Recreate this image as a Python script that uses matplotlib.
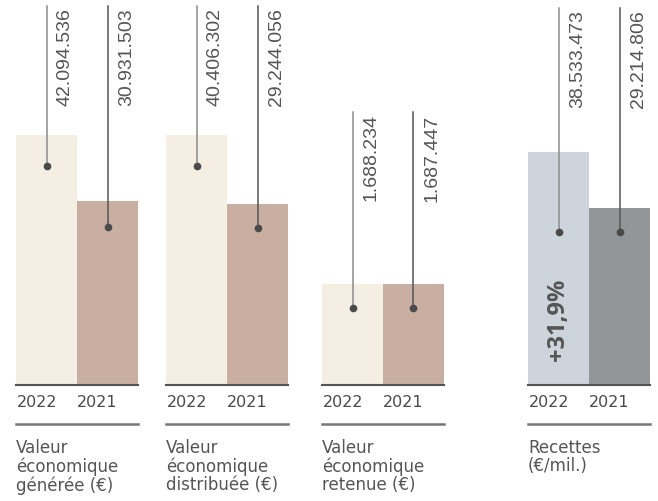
import matplotlib
matplotlib.use('Agg')
import matplotlib.pyplot as plt

# data
years = ['2022', '2021']
categories = ['Valeur\néconomique\ngénérée (€)',
              'Valeur\néconomique\ndistribuée (€)',
              'Valeur\néconomique\nretenue (€)',
              'Recettes\n(€/mil.)']
generee = [42094536, 30931503]
distribuee = [40406302, 29244056]
retenue = [1688234, 1687447]
recettes = [38533473, 29214806]
variation = '+31,9%'

W, H = 658, 502
base = 385.5  # pixel y of the baseline

def fx(x):
    return x / W

def fy(y):
    return 1 - y / H

def fmt(v):
    return f'{v:,}'.replace(',', '.')

# layout of each panel (pixels): left, right, y max, line top, dot heights
panels = [
    dict(vals=generee, left=16, right=138, ytop=42094536 * 385.5 / 250,
         line_top=0.982, dots=[0.567, 0.409], cols=['#f4eee3', '#c9aea2']),
    dict(vals=distribuee, left=166, right=288, ytop=40406302 * 385.5 / 250,
         line_top=0.982, dots=[0.567, 0.406], cols=['#f4eee3', '#c9aea2']),
    dict(vals=retenue, left=322, right=444, ytop=1688234 * 385.5 / 101,
         line_top=0.707, dots=[0.198, 0.198], cols=['#f4eee3', '#c9aea2']),
    dict(vals=recettes, left=528, right=650, ytop=38533473 * 385.5 / 233,
         line_top=0.977, dots=[0.396, 0.396], cols=['#cdd4db', '#939698']),
]
line_cols = ['#8c8c8c', '#555555']
txt_font = ['DejaVu Sans']

fig = plt.figure(figsize=(W / 100, H / 100), dpi=100)

for p, cat in zip(panels, categories):
    ax = fig.add_axes([fx(p['left']), fy(base), fx(p['right'] - p['left']), base / H])
    ax.bar([0.5, 1.5], p['vals'], width=1.0, color=p['cols'])
    ax.set_xlim(0, 2)
    ax.set_ylim(0, p['ytop'])
    ax.axis('off')

    tr = ax.get_xaxis_transform()
    for i, v in enumerate(p['vals']):
        x = 0.5 + i
        ax.plot([x, x], [p['dots'][i], p['line_top']], color=line_cols[i],
                lw=1.1, transform=tr, clip_on=False)
        ax.plot(x, p['dots'][i], 'o', color='#4a4a4a', ms=4.5,
                transform=tr, clip_on=False)
        ax.annotate(fmt(v), xy=(x, p['line_top'] - 0.004), xycoords=tr,
                    xytext=(7.5, 0), textcoords='offset points',
                    rotation=90, ha='left', va='top', fontsize=14,
                    family='Liberation Sans', color='#555555')

    # baseline and separator
    fig.add_artist(plt.Line2D([fx(p['left']), fx(p['right'])], [fy(base), fy(base)],
                              color='#555555', lw=1.5))
    fig.add_artist(plt.Line2D([fx(p['left']), fx(p['right'])], [fy(425), fy(425)],
                              color='#777777', lw=1.8))

    mid = (p['left'] + p['right']) / 2
    fig.text(fx(p['left'] + 1), fy(403), years[0], ha='left', va='center',
             fontsize=11.5, family=txt_font, color='#4a4a4a')
    fig.text(fx(mid), fy(403), years[1], ha='left', va='center',
             fontsize=11.5, family=txt_font, color='#4a4a4a')
    fig.text(fx(p['left']), fy(439), cat, ha='left', va='top',
             fontsize=12, family=txt_font, color='#555555', linespacing=1.02)

# variation inside the 2022 Recettes bar
fig.text(fx(558), fy(320), variation, rotation=90, ha='center', va='center',
         fontsize=17, fontweight='bold', family='Open Sans', color='#555555')

fig.savefig('out.png', dpi=100)
